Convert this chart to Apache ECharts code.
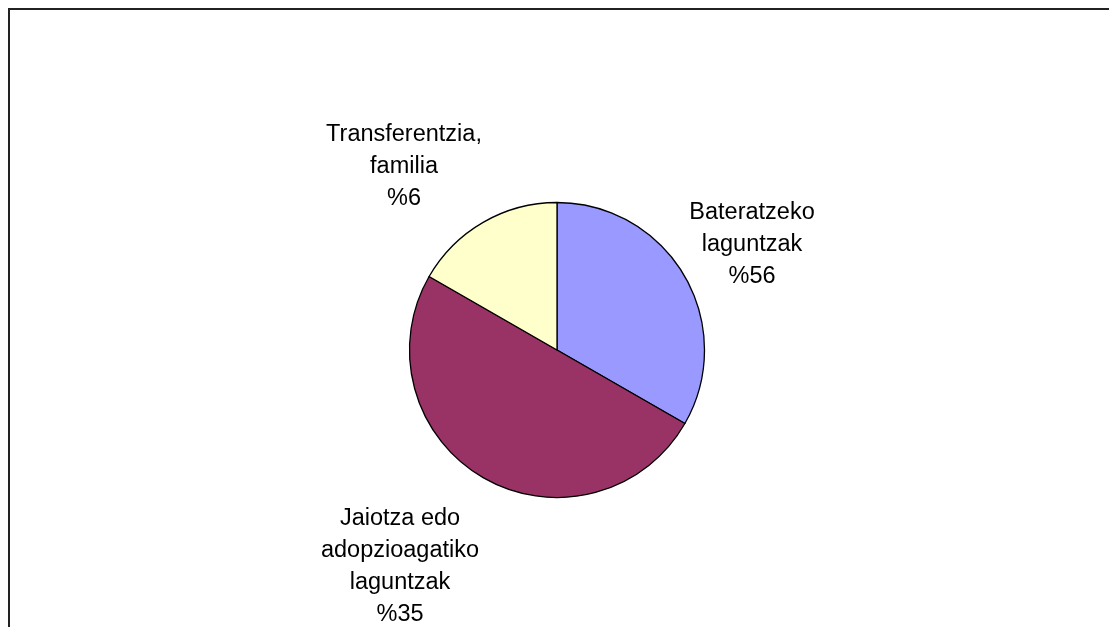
<!DOCTYPE html>
<html>
<head>
<meta charset="utf-8">
<script src="https://cdn.jsdelivr.net/npm/echarts@6/dist/echarts.min.js"></script>
<style>
html,body{margin:0;padding:0;background:#fff;}
#chart{width:1109px;height:627px;}
</style>
</head>
<body>
<div id="chart"></div>
<script>
// Slice sizes as drawn (angular shares)
var categories = ['Bateratzeko\nlaguntzak', 'Jaiotza edo\nadopzioagatiko\nlaguntzak', 'Transferentzia,\nfamilia'];
var sliceValues = [33.3, 50.0, 16.7];
// Percentages printed on the labels
var labelPercents = [56, 35, 6];
var colors = ['#9999FF', '#993366', '#FFFFCC'];
// Label anchor points (block centers)
var labelCenters = [[752, 245], [400, 567], [404, 167]];

var chart = echarts.init(document.getElementById('chart'));
chart.setOption({
  animation: false,
  backgroundColor: '#ffffff',
  graphic: [{
    type: 'rect',
    shape: { x: 9, y: 9, width: 1120, height: 640 },
    style: { fill: 'none', stroke: '#222', lineWidth: 2 },
    silent: true
  }],
  series: [{
    type: 'pie',
    center: [557, 350],
    radius: 147.5,
    startAngle: 90,
    clockwise: true,
    data: categories.map(function (c, i) {
      return { name: c, value: sliceValues[i], itemStyle: { color: colors[i] } };
    }),
    itemStyle: { borderColor: '#000', borderWidth: 1.3 },
    label: {
      show: true,
      position: 'outside',
      formatter: function (p) { return p.name + '\n%' + labelPercents[p.dataIndex]; },
      fontFamily: 'Liberation Sans, Arial, sans-serif',
      fontSize: 23.5,
      lineHeight: 32,
      color: '#000',
      align: 'center'
    },
    labelLine: { show: false },
    labelLayout: function (params) {
      var c = labelCenters[params.dataIndex];
      return { x: c[0], y: c[1], align: 'center', verticalAlign: 'middle' };
    },
    emphasis: { disabled: true }
  }]
});
</script>
</body>
</html>
